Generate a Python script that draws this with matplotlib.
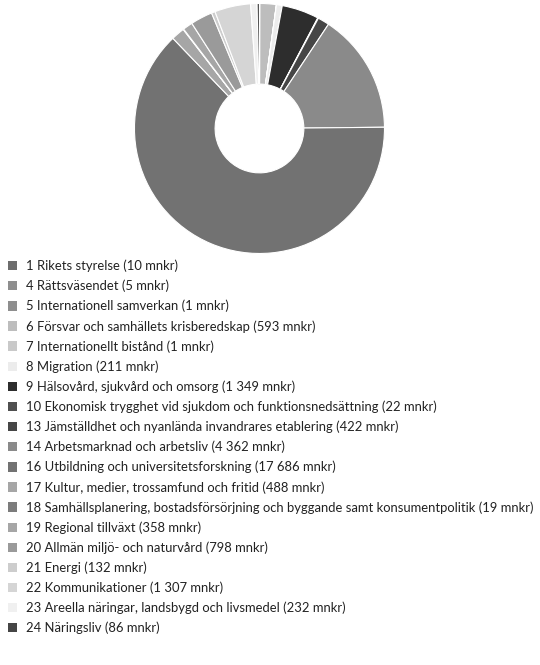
import matplotlib
matplotlib.use("Agg")
from matplotlib import pyplot as plt

labels = [
    "1 Rikets styrelse (10 mnkr)",
    "4 Rättsväsendet (5 mnkr)",
    "5 Internationell samverkan (1 mnkr)",
    "6 Försvar och samhällets krisberedskap (593 mnkr)",
    "7 Internationellt bistånd (1 mnkr)",
    "8 Migration (211 mnkr)",
    "9 Hälsovård, sjukvård och omsorg (1 349 mnkr)",
    "10 Ekonomisk trygghet vid sjukdom och funktionsnedsättning (22 mnkr)",
    "13 Jämställdhet och nyanlända invandrares etablering (422 mnkr)",
    "14 Arbetsmarknad och arbetsliv (4 362 mnkr)",
    "16 Utbildning och universitetsforskning (17 686 mnkr)",
    "17 Kultur, medier, trossamfund och fritid (488 mnkr)",
    "18 Samhällsplanering, bostadsförsörjning och byggande samt konsumentpolitik (19 mnkr)",
    "19 Regional tillväxt (358 mnkr)",
    "20 Allmän miljö- och naturvård (798 mnkr)",
    "21 Energi (132 mnkr)",
    "22 Kommunikationer (1 307 mnkr)",
    "23 Areella näringar, landsbygd och livsmedel (232 mnkr)",
    "24 Näringsliv (86 mnkr)",
]
values = [10, 5, 1, 593, 1, 211, 1349, 22, 422, 4362, 17686, 488, 19, 358, 798, 132, 1307, 232, 86]
colors = ["#6d6d6d", "#8e8e8e", "#8e8e8e", "#bdbdbd", "#c9c9c9", "#ececec", "#2d2d2d",
          "#4f4f4f", "#464646", "#8a8a8a", "#727272", "#a6a6a6", "#7c7c7c", "#a6a6a6",
          "#9a9a9a", "#cdcdcd", "#d5d5d5", "#f0f0f0", "#454545"]

fig = plt.figure(figsize=(5.4, 6.65), dpi=100)
ax = fig.add_axes([0.249, 0.6188, 0.463, 0.376])
wedges, _ = ax.pie(values, colors=colors, startangle=90, counterclock=False, radius=1,
                   wedgeprops=dict(width=0.645, edgecolor="white", linewidth=0.8))
ax.set_xlim(-1, 1)
ax.set_ylim(-1, 1)
ax.set_aspect("equal")
ax.axis("off")

leg = fig.legend(wedges, labels, loc="upper left", bbox_to_anchor=(0.014, 0.6095),
                 frameon=False, labelspacing=0.58, handlelength=0.72,
                 handleheight=0.72, handletextpad=0.66, borderaxespad=0,
                 borderpad=0, prop={"family": "Lato", "size": 9.4})
for h in leg.legend_handles:
    h.set_edgecolor("none")
for t in leg.get_texts():
    t.set_color("#222222")

fig.savefig("out.png", dpi=100)
